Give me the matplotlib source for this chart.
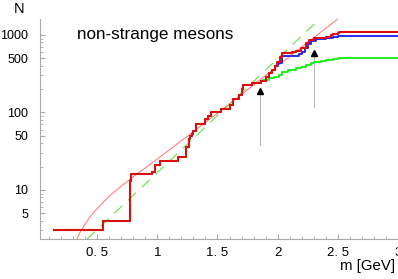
import numpy as np
import matplotlib
matplotlib.use('Agg')
import matplotlib.pyplot as plt
from matplotlib.ticker import FixedLocator, FixedFormatter, NullFormatter

plt.rcParams['font.family'] = ['Liberation Sans', 'DejaVu Sans']

# cumulative number of states N(m) (step positions in GeV)
common_m = [0.14, 0.548, 0.775, 0.783, 0.958, 0.98, 1.02, 1.17, 1.235, 1.26,
            1.275, 1.285, 1.30, 1.32, 1.40, 1.42, 1.45, 1.525, 1.60, 1.63,
            1.675, 1.70, 1.71, 1.785, 1.86]
common_n = [3, 4, 13, 16, 17, 21, 24, 27, 36, 45,
            50, 53, 57, 72, 82, 89, 101, 112, 125, 150,
            168, 200, 226, 240, 252]

red_m = [1.90, 1.93, 1.956, 1.98, 1.997, 2.02, 2.04, 2.12, 2.15, 2.19,
         2.233, 2.26, 2.30, 2.40, 2.44, 2.456, 2.50, 2.51, 3.0]
red_n = [290, 320, 353, 400, 452, 520, 580, 598, 622, 673,
         782, 862, 923, 951, 1000, 1030, 1051, 1083, 1083]

blue_m = [1.90, 1.93, 1.956, 1.98, 2.0, 2.04, 2.18, 2.20, 2.23, 2.25,
          2.275, 2.317, 2.40, 2.456, 2.50, 3.0]
blue_n = [290, 320, 353, 400, 430, 540, 560, 600, 673, 760,
          837, 888, 906, 951, 970, 970]

green_m = [1.88, 1.925, 1.967, 2.01, 2.04, 2.09, 2.15, 2.19, 2.233, 2.275,
           2.30, 2.36, 2.40, 2.456, 2.50, 2.51, 3.0]
green_n = [262, 279, 290, 305, 337, 354, 379, 390, 410, 431,
           445, 462, 476, 486, 500, 510, 510]

# fitted curves
fit_m = [0.33, 0.36, 0.40, 0.45, 0.50, 0.60, 0.70, 0.80, 1.00, 1.50, 2.00, 2.60]
fit_n = [2.31, 2.9, 3.63, 4.7, 5.75, 8.3, 11.2, 14.8, 25.1, 97.7, 398, 2138]
exp_m = [0.414, 2.344]
exp_n = [2.31, 1585]

# arrows
arrow_m = [1.85, 2.30]
arrow_lo = [38, 117]
arrow_hi = [189, 586]

fig = plt.figure(figsize=(3.98, 2.79), dpi=100)
ax = fig.add_axes([40/398, 1-239/279, 358/398, 220/279])

ax.plot(fit_m, fit_n, color='#ff7070', lw=0.7, zorder=2)
ax.plot(exp_m, exp_n, color='#66e040', lw=0.8, dashes=(10, 7), zorder=2)

ax.plot(common_m + green_m, common_n + green_n, drawstyle='steps-post',
        color='#10ee10', lw=1.3, zorder=3)
ax.plot(common_m + blue_m, common_n + blue_n, drawstyle='steps-post',
        color='#1a1aee', lw=1.3, zorder=4)
ax.plot(common_m + red_m, common_n + red_n, drawstyle='steps-post',
        color='#d81010', lw=1.5, zorder=5)

for m, lo, hi in zip(arrow_m, arrow_lo, arrow_hi):
    ax.plot([m, m], [lo, hi], color='#bbbbbb', lw=0.8, zorder=1)
    ax.plot([m], [hi], marker='^', color='black', ms=4.5, zorder=6)

ax.set_yscale('log')
ax.set_xlim(0.025, 3.0)
ax.set_ylim(2.33, 1607)

ax.xaxis.set_major_locator(FixedLocator([0.5, 1, 1.5, 2, 2.5, 3]))
ax.xaxis.set_major_formatter(FixedFormatter(['0. 5', '1', '1. 5', '2', '2. 5', '3']))
ax.xaxis.set_minor_locator(FixedLocator(np.arange(0.1, 3.0, 0.1)))
ax.yaxis.set_major_locator(FixedLocator([5, 10, 50, 100, 500, 1000]))
ax.yaxis.set_major_formatter(FixedFormatter(['5', '10', '50', '100', '500', '1000']))
ax.yaxis.set_minor_locator(FixedLocator([3, 4, 6, 7, 8, 9, 20, 30, 40, 60, 70, 80, 90,
                                         200, 300, 400, 600, 700, 800, 900]))
ax.yaxis.set_minor_formatter(NullFormatter())

for s in ['top', 'right']:
    ax.spines[s].set_visible(False)
for s in ['left', 'bottom']:
    ax.spines[s].set_color('#aaaaaa')
    ax.spines[s].set_linewidth(0.8)
ax.tick_params(which='both', direction='in', color='#aaaaaa')
ax.tick_params(which='major', length=3.5)
ax.tick_params(which='minor', length=2)
ax.tick_params(axis='y', pad=8.5, labelsize=9)
ax.tick_params(axis='x', pad=6, labelsize=9.5)

ax.text(0.103, 0.91, 'non-strange mesons', transform=ax.transAxes,
        fontsize=12.3, va='baseline', ha='left')
fig.text(19/398, 1-9/279, 'N', fontsize=10.5, ha='center', va='center')
fig.text(395/398, 1-266/279, 'm [GeV]', fontsize=10.8, ha='right', va='center')

fig.savefig('out.png', dpi=100)
